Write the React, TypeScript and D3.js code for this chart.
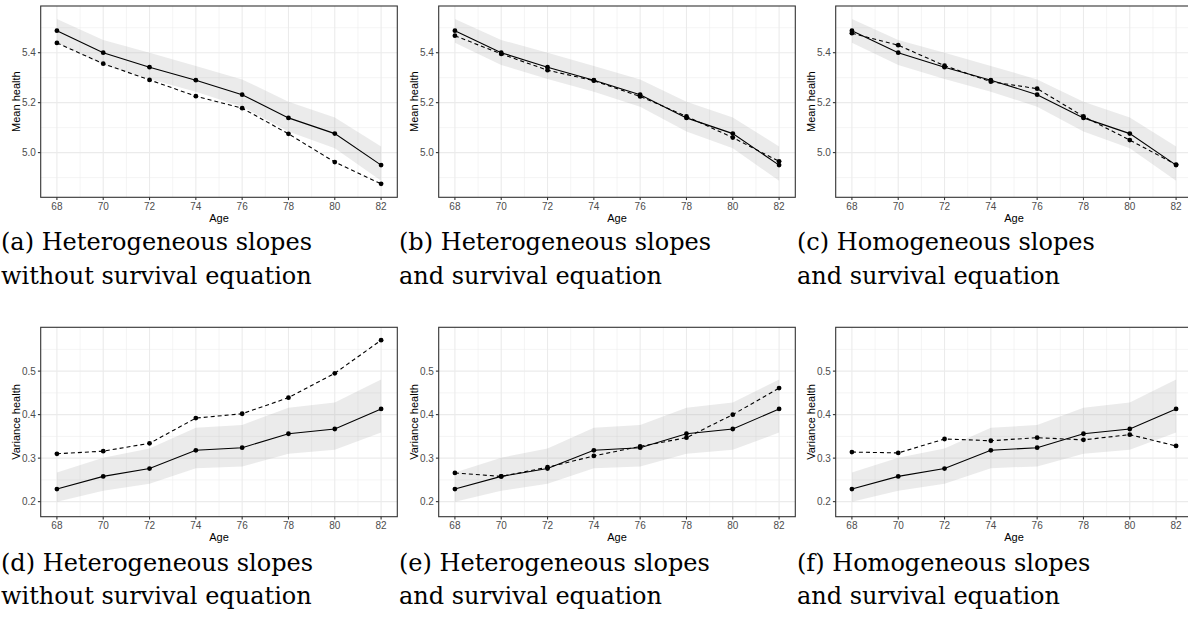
import React from 'react';
import * as d3 from 'd3';

// ages on the x axis
const ages = [68, 70, 72, 74, 76, 78, 80, 82];
const xTicks = [68, 70, 72, 74, 76, 78, 80, 82];

// observed mean health (solid) and its band
const meanObserved = [5.488, 5.4, 5.342, 5.29, 5.232, 5.139, 5.076, 4.95];
const meanUpper = [5.535, 5.451, 5.4, 5.347, 5.293, 5.204, 5.141, 5.024];
const meanLower = [5.44, 5.351, 5.295, 5.244, 5.184, 5.084, 5.017, 4.887];

// simulated mean health (dashed), one per column
const meanSimA = [5.439, 5.356, 5.291, 5.226, 5.178, 5.075, 4.962, 4.875];
const meanSimB = [5.468, 5.395, 5.33, 5.288, 5.225, 5.145, 5.06, 4.965];
const meanSimC = [5.478, 5.43, 5.348, 5.284, 5.256, 5.145, 5.05, 4.952];

// observed variance of health (solid) and its band
const varObserved = [0.229, 0.258, 0.276, 0.318, 0.324, 0.356, 0.367, 0.413];
const varUpper = [0.267, 0.301, 0.322, 0.37, 0.376, 0.416, 0.428, 0.481];
const varLower = [0.2, 0.225, 0.241, 0.277, 0.281, 0.31, 0.319, 0.359];

// simulated variance (dashed)
const varSimD = [0.31, 0.316, 0.334, 0.392, 0.402, 0.439, 0.495, 0.571];
const varSimE = [0.266, 0.258, 0.279, 0.305, 0.327, 0.347, 0.4, 0.461];
const varSimF = [0.314, 0.312, 0.344, 0.34, 0.347, 0.342, 0.354, 0.328];

const meanTicks = [5.0, 5.2, 5.4];
const meanMinor = [4.9, 5.1, 5.3, 5.5];
const varTicks = [0.2, 0.3, 0.4, 0.5];
const varMinor = [0.25, 0.35, 0.45, 0.55];

const captionsTop = [
  ['(a) Heterogeneous slopes', 'without survival equation'],
  ['(b) Heterogeneous slopes', 'and survival equation'],
  ['(c) Homogeneous slopes', 'and survival equation'],
];
const captionsBottom = [
  ['(d) Heterogeneous slopes', 'without survival equation'],
  ['(e) Heterogeneous slopes', 'and survival equation'],
  ['(f) Homogeneous slopes', 'and survival equation'],
];

const colLeft = [40.7, 438.7, 835.7];
const captionLeft = [1, 399, 797];
const plotW = 356.6;

type PanelProps = {
  left: number;
  top: number;
  height: number;
  yDomain: [number, number];
  yTicks: number[];
  yMinor: number[];
  yFormat: (v: number) => string;
  yTitle: string;
  observed: number[];
  upper: number[];
  lower: number[];
  sim: number[];
};

const Panel = ({ left, top, height, yDomain, yTicks, yMinor, yFormat, yTitle, observed, upper, lower, sim }: PanelProps) => {
  const x = d3.scaleLinear().domain([67.3, 82.7]).range([0, plotW]);
  const y = d3.scaleLinear().domain(yDomain).range([height, 0]);
  const xMinor = d3.range(69, 82, 2);

  const band = d3
    .area<number>()
    .x((_, i) => x(ages[i]))
    .y0((_, i) => y(lower[i]))
    .y1((_, i) => y(upper[i]));
  const line = d3
    .line<number>()
    .x((_, i) => x(ages[i]))
    .y((d) => y(d));

  const tickFont = { fontFamily: 'Liberation Sans, Arial, sans-serif', fontSize: 10, fill: '#4D4D4D' };
  const titleFont = { fontFamily: 'Liberation Sans, Arial, sans-serif', fontSize: 11, fill: '#000' };

  return (
    <g transform={`translate(${left},${top})`}>
      <rect width={plotW} height={height} fill="#fff" />
      {xMinor.map((v) => (
        <line key={'xm' + v} x1={x(v)} x2={x(v)} y1={0} y2={height} stroke="#EBEBEB" strokeWidth={0.55} />
      ))}
      {yMinor.map((v) => (
        <line key={'ym' + v} x1={0} x2={plotW} y1={y(v)} y2={y(v)} stroke="#EBEBEB" strokeWidth={0.55} />
      ))}
      {xTicks.map((v) => (
        <line key={'xg' + v} x1={x(v)} x2={x(v)} y1={0} y2={height} stroke="#EBEBEB" strokeWidth={1.1} />
      ))}
      {yTicks.map((v) => (
        <line key={'yg' + v} x1={0} x2={plotW} y1={y(v)} y2={y(v)} stroke="#EBEBEB" strokeWidth={1.1} />
      ))}
      <path d={band(observed) ?? ''} fill="#999" fillOpacity={0.2} />
      <path d={line(sim) ?? ''} fill="none" stroke="#000" strokeWidth={1.1} strokeDasharray="4,3" />
      <path d={line(observed) ?? ''} fill="none" stroke="#000" strokeWidth={1.1} />
      {sim.map((d, i) => (
        <circle key={'s' + i} cx={x(ages[i])} cy={y(d)} r={2.4} fill="#000" />
      ))}
      {observed.map((d, i) => (
        <circle key={'o' + i} cx={x(ages[i])} cy={y(d)} r={2.4} fill="#000" />
      ))}
      <rect width={plotW} height={height} fill="none" stroke="#333" strokeWidth={1.1} />
      {xTicks.map((v) => (
        <g key={'xt' + v}>
          <line x1={x(v)} x2={x(v)} y1={height} y2={height + 2.8} stroke="#333" strokeWidth={1.1} />
          <text x={x(v)} y={height + 12.5} textAnchor="middle" {...tickFont}>
            {v}
          </text>
        </g>
      ))}
      {yTicks.map((v) => (
        <g key={'yt' + v}>
          <line x1={-2.8} x2={0} y1={y(v)} y2={y(v)} stroke="#333" strokeWidth={1.1} />
          <text x={-4.8} y={y(v) + 3.6} textAnchor="end" {...tickFont}>
            {yFormat(v)}
          </text>
        </g>
      ))}
      <text x={plotW / 2} y={height + 24.5} textAnchor="middle" {...titleFont}>
        Age
      </text>
      <text transform={`translate(-21.2,${height / 2}) rotate(-90)`} textAnchor="middle" {...titleFont}>
        {yTitle}
      </text>
    </g>
  );
};

const Caption = ({ x, y, lines }: { x: number; y: number; lines: string[] }) => (
  <g>
    {lines.map((t, i) => (
      <text key={i} x={x} y={y + i * 33.5} fontFamily="DejaVu Serif, serif" fontSize={24} fill="#000">
        {t}
      </text>
    ))}
  </g>
);

const App = () => {
  const meanSims = [meanSimA, meanSimB, meanSimC];
  const varSims = [varSimD, varSimE, varSimF];
  const fmt1 = d3.format('.1f');

  return (
    <svg width={1188} height={619} style={{ position: 'absolute', left: 0, top: 0, background: '#fff' }}>
      {meanSims.map((sim, c) => (
        <Panel
          key={'m' + c}
          left={colLeft[c]}
          top={6}
          height={191.3}
          yDomain={[4.821, 5.587]}
          yTicks={meanTicks}
          yMinor={meanMinor}
          yFormat={fmt1}
          yTitle="Mean health"
          observed={meanObserved}
          upper={meanUpper}
          lower={meanLower}
          sim={sim}
        />
      ))}
      {varSims.map((sim, c) => (
        <Panel
          key={'v' + c}
          left={colLeft[c]}
          top={327.3}
          height={189.4}
          yDomain={[0.1654, 0.6007]}
          yTicks={varTicks}
          yMinor={varMinor}
          yFormat={fmt1}
          yTitle="Variance health"
          observed={varObserved}
          upper={varUpper}
          lower={varLower}
          sim={sim}
        />
      ))}
      {captionsTop.map((lines, c) => (
        <Caption key={'ct' + c} x={captionLeft[c]} y={250} lines={lines} />
      ))}
      {captionsBottom.map((lines, c) => (
        <Caption key={'cb' + c} x={captionLeft[c]} y={570.5} lines={lines} />
      ))}
    </svg>
  );
};

export default App;
